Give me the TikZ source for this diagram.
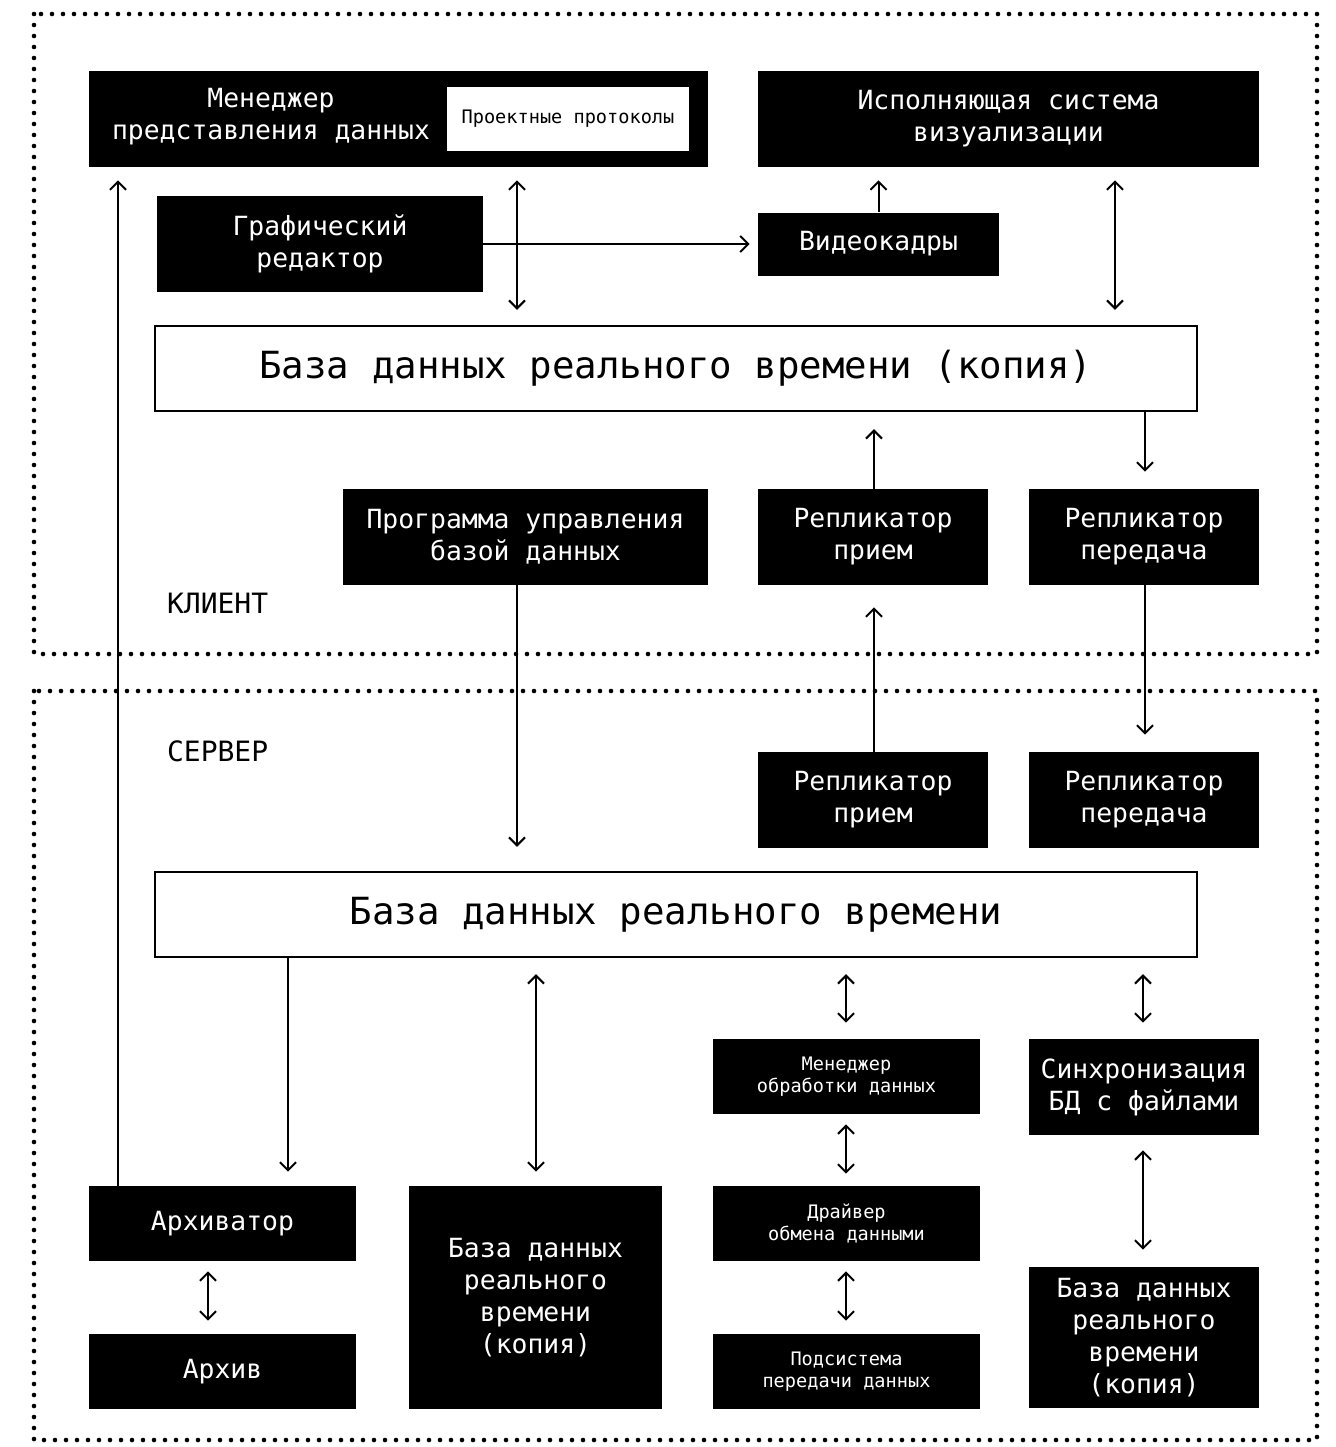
\documentclass[tikz,border=0pt]{standalone}
\usepackage{fontspec}
\setmonofont{DejaVu Sans Mono}
\usetikzlibrary{arrows.meta}

\begin{document}
\begin{tikzpicture}[x=0.5pt, y=-0.5pt, font=\ttfamily\fontsize{13.2}{16}\selectfont,
    blk/.style={fill=black, text=white, align=center, inner sep=0pt},
    wbox/.style={draw=black, line width=1.2pt, fill=white, inner sep=0pt,
        font=\ttfamily\fontsize{18.7}{22}\selectfont},
    small/.style={font=\ttfamily\fontsize{9.3}{11}\selectfont},
    arr/.style={-{Straight Barb[length=4pt,width=8pt]}, line width=1pt},
    darr/.style={{Straight Barb[length=4pt,width=8pt]}-{Straight Barb[length=4pt,width=8pt]}, line width=1pt},
    zone/.style={line width=2.3pt, line cap=round, dash pattern=on 0pt off 5.5pt}]

    \useasboundingbox (0,0) rectangle (1335,1447);

    % Zones
    \draw[zone] (34,14) rectangle (1317,654);
    \draw[zone] (34,691) rectangle (1317,1440);
    \node[anchor=west, font=\ttfamily\fontsize{14}{16}\selectfont] (client) at (160,603) {КЛИЕНТ};
    \node[anchor=west, font=\ttfamily\fontsize{14}{16}\selectfont] (server) at (160,751) {СЕРВЕР};

    % Client
    \node[blk, minimum width=309.5pt, minimum height=48pt] (mpd) at (398.5,119) {};
    \node[text=white, align=center] (mpdtxt) at (271,117) {Менеджер\\представления данных};
    \node[fill=white, small, minimum width=121pt, minimum height=32pt, inner sep=0pt] (proto) at (568,119) {Проектные протоколы};
    \node[blk, minimum width=250.5pt, minimum height=48pt] (isv) at (1008.5,119) {Исполняющая система\\визуализации};
    \node[blk, minimum width=163pt, minimum height=48pt] (gred) at (320,244) {Графический\\редактор};
    \node[blk, minimum width=120.5pt, minimum height=31.5pt] (vk) at (878.5,244) {Видеокадры};
    \node[wbox, minimum width=521pt, minimum height=42.5pt] (dbc) at (676,368.5) {База данных реального времени (копия)};
    \node[blk, minimum width=182.5pt, minimum height=48pt] (pud) at (525.5,537) {Программа управления\\базой данных};
    \node[blk, minimum width=115pt, minimum height=48pt] (rpc) at (873,537) {Репликатор\\прием};
    \node[blk, minimum width=115pt, minimum height=48pt] (rtc) at (1144,537) {Репликатор\\передача};

    % Server
    \node[blk, minimum width=115pt, minimum height=48pt] (rps) at (873,800) {Репликатор\\прием};
    \node[blk, minimum width=115pt, minimum height=48pt] (rts) at (1144,800) {Репликатор\\передача};
    \node[wbox, minimum width=521pt, minimum height=42.5pt] (db) at (676,914.5) {База данных реального времени};
    \node[blk, minimum width=133.5pt, minimum height=37.5pt] (arh) at (222.5,1223.5) {Архиватор};
    \node[blk, minimum width=133.5pt, minimum height=37.5pt] (arv) at (222.5,1371.5) {Архив};
    \node[blk, minimum width=126.5pt, minimum height=111.5pt] (dbc2) at (535.5,1297.5) {База данных\\реального\\времени\\(копия)};
    \node[blk, small, minimum width=133.5pt, minimum height=37.5pt] (mod) at (846.5,1076.5) {Менеджер\\обработки данных};
    \node[blk, small, minimum width=133.5pt, minimum height=37.5pt] (dro) at (846.5,1223.5) {Драйвер\\обмена данными};
    \node[blk, small, minimum width=133.5pt, minimum height=37.5pt] (ppd) at (846.5,1371.5) {Подсистема\\передачи данных};
    \node[blk, minimum width=115pt, minimum height=48pt] (sync) at (1144,1087) {Синхронизация\\БД с файлами};
    \node[blk, minimum width=115pt, minimum height=70.5pt] (dbc3) at (1144,1337.5) {База данных\\реального\\времени\\(копия)};

    % Client links
    \draw[arr, shorten >=6.5pt] (arh.north -| 118,0) -- (mpd.south -| 118,0);
    \draw[darr, shorten <=6.5pt, shorten >=7.5pt] (mpd.south -| 517,0) -- (dbc.north -| 517,0);
    \draw[arr, shorten >=4pt] (gred.east) -- (vk.west);
    \draw[arr, shorten >=6.5pt] (vk.north) -- (isv.south -| vk.north);
    \draw[darr, shorten <=6.5pt, shorten >=7.5pt] (isv.south -| 1115,0) -- (dbc.north -| 1115,0);
    \draw[arr, shorten >=8.5pt] (rpc.north -| 874,0) -- (dbc.south -| 874,0);
    \draw[arr, shorten >=8.5pt] (dbc.south -| 1145,0) -- (rtc.north -| 1145,0);

    % Client-server links
    \draw[arr, shorten >=12pt] (pud.south -| 517,0) -- (db.north -| 517,0);
    \draw[arr, shorten >=11pt] (rps.north -| 874,0) -- (rpc.south -| 874,0);
    \draw[arr, shorten >=8.5pt] (rtc.south -| 1145,0) -- (rts.north -| 1145,0);

    % Server links
    \draw[arr, shorten >=7pt] (db.south -| 288,0) -- (arh.north -| 288,0);
    \draw[darr, shorten <=8pt, shorten >=7pt] (db.south -| 536,0) -- (dbc2.north -| 536,0);
    \draw[darr, shorten <=8pt, shorten >=8pt] (db.south -| 846,0) -- (mod.north -| 846,0);
    \draw[darr, shorten <=8pt, shorten >=8pt] (db.south -| 1143,0) -- (sync.north -| 1143,0);
    \draw[darr, shorten <=5pt, shorten >=6pt] (mod.south -| 846,0) -- (dro.north -| 846,0);
    \draw[darr, shorten <=5pt, shorten >=6.5pt] (dro.south -| 846,0) -- (ppd.north -| 846,0);
    \draw[darr, shorten <=7.5pt, shorten >=8.5pt] (sync.south -| 1143,0) -- (dbc3.north -| 1143,0);
    \draw[darr, shorten <=5pt, shorten >=6.5pt] (arh.south -| 208,0) -- (arv.north -| 208,0);

\end{tikzpicture}
\end{document}
